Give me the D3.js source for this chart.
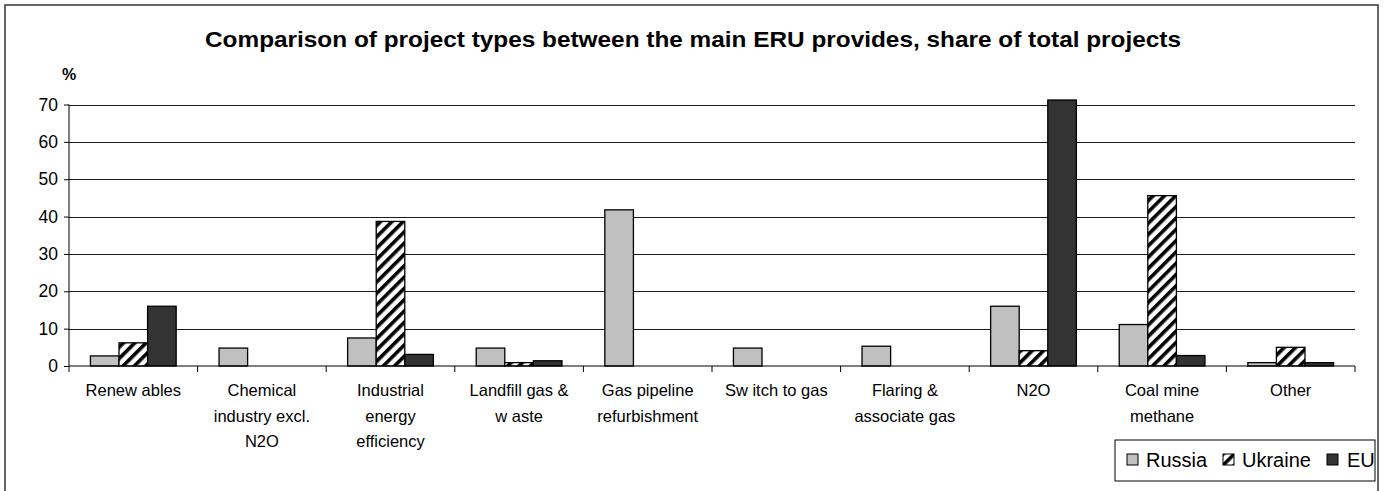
<!DOCTYPE html>
<html><head><meta charset="utf-8">
<script src="https://cdn.jsdelivr.net/npm/d3@7"></script>
<style>
html,body{margin:0;padding:0;background:#fff;}
svg{display:block;font-family:"Liberation Sans",Arial,sans-serif;}
</style></head>
<body><svg id="c" width="1386" height="491"></svg>
<script>
const categories = [
  ["Renew ables"],
  ["Chemical","industry excl.","N2O"],
  ["Industrial","energy","efficiency"],
  ["Landfill gas &","w aste"],
  ["Gas pipeline","refurbishment"],
  ["Sw itch to gas"],
  ["Flaring &","associate gas"],
  ["N2O"],
  ["Coal mine","methane"],
  ["Other"]
];
const seriesNames = ["Russia","Ukraine","EU"];
const russia  = [2.7, 4.8, 7.5, 4.8, 41.8, 4.8, 5.3, 16, 11.1, 0.9];
const ukraine = [6.2, 0, 38.7, 0.9, 0, 0, 0, 4.1, 45.6, 5.0];
const eu      = [16, 0, 3.1, 1.4, 0, 0, 0, 71.2, 2.8, 0.9];
const yTicks = [0,10,20,30,40,50,60,70];

const svg = d3.select("#c");
const defs = svg.append("defs");
const pat = defs.append("pattern").attr("id","hatch").attr("patternUnits","userSpaceOnUse")
  .attr("width",8).attr("height",8).attr("patternTransform","rotate(45)");
pat.append("rect").attr("width",8).attr("height",8).attr("fill","#fff");
pat.append("rect").attr("x",0).attr("width",3.6).attr("height",8).attr("fill","#000");

// outer frame
svg.append("rect").attr("x",5).attr("y",5).attr("width",1373).attr("height",500)
  .attr("fill","#fff").attr("stroke","#333").attr("stroke-width",1.5);

const x0 = 69, x1 = 1355, yTop = 104.5, yBot = 366;
const x = d3.scaleBand().domain(d3.range(categories.length)).range([x0,x1]).padding(0);
const bw = x.bandwidth();
const xs = d3.scaleBand().domain(seriesNames).range([bw*0.75/4.5, bw - bw*0.75/4.5]).padding(0);
const y = d3.scaleLinear().domain([0,70]).range([yBot,yTop]);

// gridlines
const grid = svg.append("g").attr("transform",`translate(${x0},0)`)
  .call(d3.axisLeft(y).tickValues(yTicks.filter(d=>d>0)).tickSize(-(x1-x0)).tickFormat(""));
grid.select(".domain").remove();
grid.selectAll("line").attr("stroke","#1a1a1a").attr("stroke-width",1).attr("shape-rendering","crispEdges");

// bars
const series = [
  {name:"Russia", vals:russia, fill:"#c0c0c0"},
  {name:"Ukraine", vals:ukraine, fill:"url(#hatch)"},
  {name:"EU", vals:eu, fill:"#333333"}
];
series.forEach(s=>{
  svg.append("g").selectAll("rect").data(s.vals.map((v,i)=>({v,i}))).join("rect")
    .filter(d=>d.v>0)
    .attr("x",d=>x(d.i)+xs(s.name))
    .attr("width",xs.bandwidth())
    .attr("y",d=>y(d.v))
    .attr("height",d=>yBot-y(d.v))
    .attr("fill",s.fill).attr("stroke","#000").attr("stroke-width",1.3);
});

// y axis
const ya = svg.append("g").attr("transform",`translate(${x0},0)`)
  .call(d3.axisLeft(y).tickValues(yTicks).tickSize(5).tickPadding(6).tickFormat(d3.format("d")));
ya.select(".domain").attr("stroke","#000").attr("d",`M0,${yTop}V${yBot}`);
ya.selectAll("line").attr("stroke","#000");
ya.selectAll("text").attr("font-size",17.5).attr("font-family","Liberation Sans, Arial").attr("fill","#000");

// x axis
const xa = svg.append("g").attr("transform",`translate(0,${yBot})`);
xa.append("line").attr("x1",x0).attr("x2",x1).attr("stroke","#000");
xa.selectAll(".tk").data(d3.range(categories.length+1)).join("line")
  .attr("x1",i=>x0+i*bw).attr("x2",i=>x0+i*bw).attr("y1",0).attr("y2",6).attr("stroke","#000");
categories.forEach((lines,i)=>{
  const t = svg.append("text").attr("text-anchor","middle").attr("font-size",16.5).attr("fill","#000");
  lines.forEach((ln,j)=>{
    t.append("tspan").attr("x",x(i)+bw/2).attr("y",396+j*25.5).text(ln);
  });
});

// title
svg.append("text").attr("x",693).attr("y",47).attr("text-anchor","middle")
  .attr("font-size",22).attr("font-weight","bold").attr("textLength",976).attr("lengthAdjust","spacingAndGlyphs")
  .text("Comparison of project types between the main ERU provides, share of total projects");
svg.append("text").attr("x",62).attr("y",80).attr("font-size",16).attr("font-weight","bold").text("%");

// legend
const lg = svg.append("g");
lg.append("rect").attr("x",1115).attr("y",440).attr("width",260).attr("height",41)
  .attr("fill","#fff").attr("stroke","#000").attr("stroke-width",1);
const lgX = [1127, 1223, 1327];
const lgT = [1146, 1242, 1347];
series.forEach((s,i)=>{
  lg.append("rect").attr("x",lgX[i]).attr("y",454).attr("width",11).attr("height",11)
    .attr("fill",s.fill).attr("stroke","#000").attr("stroke-width",1);
  lg.append("text").attr("x",lgT[i]).attr("y",467).attr("font-size",20).attr("fill","#000").text(s.name);
});
</script></body></html>
